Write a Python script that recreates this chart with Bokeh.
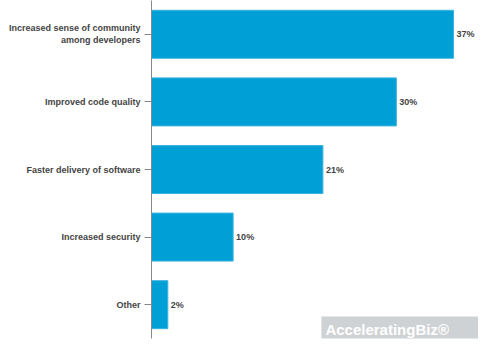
from bokeh.plotting import figure
from bokeh.models import ColumnDataSource, FactorRange, Range1d, Label
from bokeh.embed import file_html
from bokeh.resources import INLINE
from bokeh.core.properties import value

categories = [
    "Increased sense of community\namong developers",
    "Improved code quality",
    "Faster delivery of software",
    "Increased security",
    "Other",
]
values = [37, 30, 21, 10, 2]
value_labels = ["37%", "30%", "21%", "10%", "2%"]

source = ColumnDataSource(dict(cat=categories, val=values, lab=value_labels))

p = figure(
    width=484, height=341,
    y_range=FactorRange(*list(reversed(categories)), range_padding=0),
    x_range=Range1d(0, 40.8),
    output_backend="svg", toolbar_location=None,
    min_border_left=151, min_border_right=0, min_border_top=0, min_border_bottom=3,
)
p.outline_line_color = None
p.xaxis.visible = False
p.xgrid.grid_line_color = None
p.ygrid.grid_line_color = None

p.hbar(y="cat", right="val", left=0, height=0.71, source=source,
       fill_color="#00a0d6", line_color="#3cb2df", line_width=1)

p.text(x="val", y="cat", text="lab", source=source, x_offset=3,
       text_font=value("Liberation Sans"), text_font_style="bold",
       text_font_size="9px", text_color="#444444",
       text_baseline="middle", text_align="left")

yax = p.yaxis[0]
yax.axis_line_color = "#888888"
yax.major_tick_line_color = "#888888"
yax.major_tick_out = 7
yax.major_tick_in = 0
yax.major_label_standoff = 4
yax.major_label_text_font = "Liberation Sans"
yax.major_label_text_font_style = "bold"
yax.major_label_text_font_size = "9px"
yax.major_label_text_color = "#444444"
yax.major_label_text_align = "right"

wm = Label(x=40.0, y=0.14, text="      AcceleratingBiz®", text_align="right",
           text_baseline="middle", text_font="Liberation Sans",
           text_font_style="bold", text_font_size="15px", text_color="#ffffff",
           background_fill_color="#cfd2d4", background_fill_alpha=1.0,
           padding=4)
p.add_layout(wm)

open("out.html", "w").write(file_html(p, INLINE))
